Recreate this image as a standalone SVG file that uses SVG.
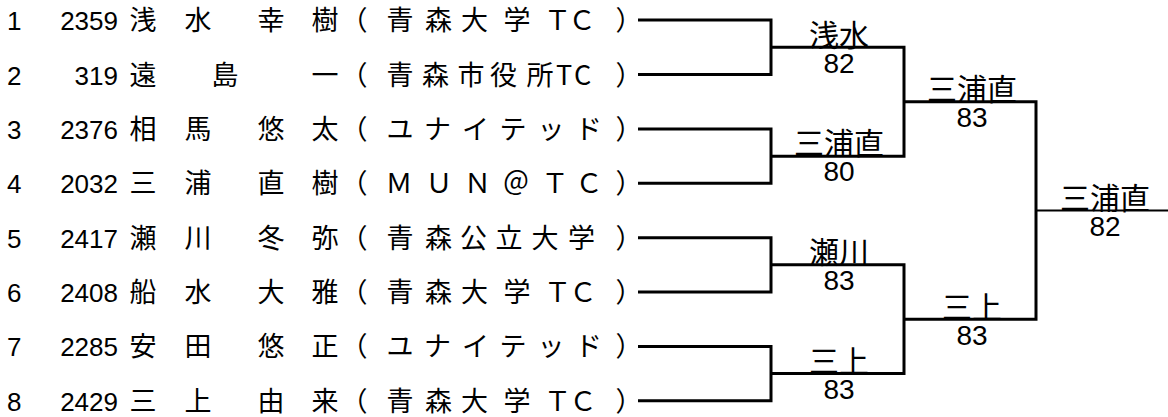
<svg xmlns="http://www.w3.org/2000/svg" width="1168" height="417" viewBox="0 0 1168 417">
<style>
.bg{fill:#ffffff}
.seed,.num{font-family:"Liberation Sans",Arial,sans-serif;font-size:26px;fill:#000}
.num{text-anchor:end}
.jp{font-family:"Noto Sans CJK JP","Noto Sans CJK SC",sans-serif;font-size:27px;fill:#000;text-anchor:middle}
.win{font-family:"Noto Sans CJK JP","Noto Sans CJK SC",sans-serif;font-size:30px;fill:#000;text-anchor:middle}
.score{font-family:"Liberation Sans",Arial,sans-serif;font-size:28px;fill:#000;text-anchor:middle}
.ln{fill:none;stroke:#000;stroke-width:3;stroke-linejoin:miter;stroke-linecap:butt}
.fin{fill:none;stroke:#000;stroke-width:2}
</style>
<rect class="bg" x="0" y="0" width="1168" height="417"/>
<g id="entry1">
<text class="seed" x="7" y="30">1</text><text class="num" x="118" y="30">2359</text>
<text class="jp" x="143 198 271 325" y="30">浅水幸樹</text>
<text class="jp" x="354" y="30">（</text>
<text class="jp" x="400 438.5 474.5 517 557.5 582" y="30">青森大学ＴＣ</text>
<text class="jp" x="629" y="30">）</text>
</g>
<g id="entry2">
<text class="seed" x="7" y="84.5">2</text><text class="num" x="118" y="84.5">319</text>
<text class="jp" x="143 225 325" y="84.5">遠島一</text>
<text class="jp" x="354" y="84.5">（</text>
<text class="jp" x="400 435.5 471 503.5 540 564 582.5" y="84.5">青森市役所TC</text>
<text class="jp" x="629" y="84.5">）</text>
</g>
<g id="entry3">
<text class="seed" x="7" y="139">3</text><text class="num" x="118" y="139">2376</text>
<text class="jp" x="143 198 271 325" y="139">相馬悠太</text>
<text class="jp" x="354" y="139">（</text>
<text class="jp" x="400 437.5 475.5 513 551 588.5" y="139">ユナイテッド</text>
<text class="jp" x="629" y="139">）</text>
</g>
<g id="entry4">
<text class="seed" x="7" y="193.3">4</text><text class="num" x="118" y="193.3">2032</text>
<text class="jp" x="143 198 271 325" y="193.3">三浦直樹</text>
<text class="jp" x="354" y="193.3">（</text>
<text class="jp" x="399 439 477.5 516 555 589" y="193.3">ＭＵＮ＠ＴＣ</text>
<text class="jp" x="629" y="193.3">）</text>
</g>
<g id="entry5">
<text class="seed" x="7" y="247.7">5</text><text class="num" x="118" y="247.7">2417</text>
<text class="jp" x="143 198 271 325" y="247.7">瀬川冬弥</text>
<text class="jp" x="354" y="247.7">（</text>
<text class="jp" x="400 438.5 473.5 509 545 581.5" y="247.7">青森公立大学</text>
<text class="jp" x="629" y="247.7">）</text>
</g>
<g id="entry6">
<text class="seed" x="7" y="302">6</text><text class="num" x="118" y="302">2408</text>
<text class="jp" x="143 198 271 325" y="302">船水大雅</text>
<text class="jp" x="354" y="302">（</text>
<text class="jp" x="400 438.5 474.5 517 557.5 583" y="302">青森大学ＴＣ</text>
<text class="jp" x="629" y="302">）</text>
</g>
<g id="entry7">
<text class="seed" x="7" y="356.4">7</text><text class="num" x="118" y="356.4">2285</text>
<text class="jp" x="143 198 271 325" y="356.4">安田悠正</text>
<text class="jp" x="354" y="356.4">（</text>
<text class="jp" x="400 437.5 475.5 513 551 588.5" y="356.4">ユナイテッド</text>
<text class="jp" x="629" y="356.4">）</text>
</g>
<g id="entry8">
<text class="seed" x="7" y="410.8">8</text><text class="num" x="118" y="410.8">2429</text>
<text class="jp" x="143 198 271 325" y="410.8">三上由来</text>
<text class="jp" x="354" y="410.8">（</text>
<text class="jp" x="400 438.5 474.5 517 557.5 583" y="410.8">青森大学ＴＣ</text>
<text class="jp" x="629" y="410.8">）</text>
</g>
<g id="connectors">
<path class="ln" d="M638,20 H771 V74.5 H638"/>
<path class="ln" d="M638,129 H771 V183.3 H638"/>
<path class="ln" d="M638,237.7 H771 V292 H638"/>
<path class="ln" d="M638,346.4 H771 V400.8 H638"/>
<path class="ln" d="M771,47.25 H904 V156.15 H771"/>
<path class="ln" d="M771,264.85 H904 V373.6 H771"/>
<path class="ln" d="M904,101.7 H1036 V319.2 H904"/>
<path class="fin" d="M1036,210.45 H1168"/>
</g>
<g id="match1">
<text class="win" x="839" y="45.5">浅水</text>
<text class="score" x="839" y="72.5">82</text>
</g>
<g id="match2">
<text class="win" x="839" y="154">三浦直</text>
<text class="score" x="839" y="181">80</text>
</g>
<g id="match3">
<text class="win" x="839" y="263">瀬川</text>
<text class="score" x="839" y="290">83</text>
</g>
<g id="match4">
<text class="win" x="839" y="372">三上</text>
<text class="score" x="839" y="398.5">83</text>
</g>
<g id="semi1">
<text class="win" x="972" y="100">三浦直</text>
<text class="score" x="972" y="126.5">83</text>
</g>
<g id="semi2">
<text class="win" x="972" y="318">三上</text>
<text class="score" x="972" y="344.5">83</text>
</g>
<g id="final">
<text class="win" x="1105" y="209">三浦直</text>
<text class="score" x="1105" y="235.5">82</text>
</g>
</svg>
